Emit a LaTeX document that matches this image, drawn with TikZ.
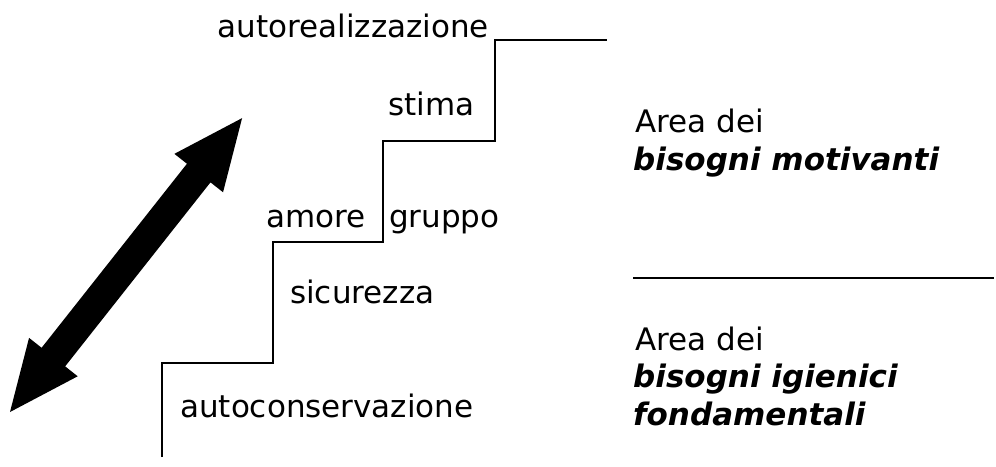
\documentclass[tikz,border=0pt]{standalone}
\usepackage{fontspec}
\setmainfont{DejaVu Sans}
\begin{document}
\begin{tikzpicture}[x=1pt,y=1pt,
  label/.style={inner sep=0pt, font=\fontsize{31}{37}\selectfont},
  emph/.style={label, font=\fontsize{31}{37}\selectfont\bfseries\itshape},
  stair/.style={line width=2.3pt, line join=miter},
  rule/.style={line width=2.3pt}]
  \useasboundingbox (0,0) rectangle (996,-466);

  % staircase
  \coordinate (s0) at (162,-457);
  \coordinate (s1) at (162,-363);
  \coordinate (s2) at (273,-363);
  \coordinate (s3) at (273,-242);
  \coordinate (s4) at (383,-242);
  \coordinate (s5) at (383,-141);
  \coordinate (s6) at (495,-141);
  \coordinate (s7) at (495,-40);
  \coordinate (s8) at (607,-40);
  \draw[stair] (s0) -- (s1) -- (s2) -- (s3) -- (s4) -- (s5) -- (s6) -- (s7) -- (s8);

  % step labels
  \node[label, anchor=base east] (autoreal) at (489,-37) {autorealizzazione};
  \node[label, anchor=base west] (stima) at (388,-115) {stima};
  \node[label, anchor=base east] (amore) at (366,-227) {amore};
  \node[label, anchor=base west] (gruppo) at (389,-227) {gruppo};
  \node[label, anchor=base west] (sicurezza) at (290,-303) {sicurezza};
  \node[label, anchor=base west] (autocons) at (180,-417) {autoconservazione};

  % double-headed arrow
  \begin{scope}[shift={(10,-412)}, rotate=51.7]
    \fill (0,0) -- (70,31) -- (70,15) -- (304.5,15) -- (304.5,31) -- (374.5,0)
      -- (304.5,-31) -- (304.5,-15) -- (70,-15) -- (70,-31) -- cycle;
  \end{scope}

  % areas
  \node[label, anchor=base west] (area1) at (635,-132) {Area dei};
  \node[emph, anchor=base west] (mot) at (633,-170) {bisogni motivanti};
  \coordinate (r0) at (633,-278);
  \coordinate (r1) at (994,-278);
  \draw[rule] (r0) -- (r1);
  \node[label, anchor=base west] (area2) at (635,-350) {Area dei};
  \node[emph, anchor=base west] (ig) at (633,-387) {bisogni igienici};
  \node[emph, anchor=base west] (fond) at (633,-425) {fondamentali};
\end{tikzpicture}
\end{document}
